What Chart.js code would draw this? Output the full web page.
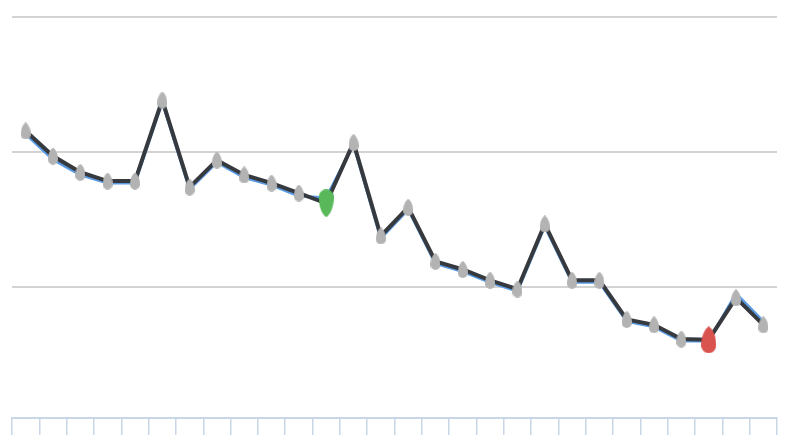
<!DOCTYPE html>
<html>
<head>
<meta charset="utf-8">
<script src="https://cdn.jsdelivr.net/npm/chart.js@4"></script>
<style>
    html, body { margin: 0; padding: 0; background: #fff; }
    #wrap { width: 792px; height: 441px; }
</style>
</head>
<body>
<div id="wrap"><canvas id="trend-chart"></canvas></div>
<script>
// =======================
// Data
// =======================
const labels = [
    "1", "2", "3", "4", "5", "6", "7", "8", "9", "10",
    "11", "12", "13", "14", "15", "16", "17", "18", "19", "20",
    "21", "22", "23", "24", "25", "26", "27", "28"
];
const mainValues = [
    215.6, 197, 185, 178.5, 178.5, 238.5, 174, 194, 183, 177,
    169.6, 162, 207, 137.8, 159, 119, 113, 105, 98.5, 146.7,
    105, 105, 76, 72, 61.5, 61, 92, 72
];
const shadowValues = [
    213.5, 194.5, 183, 177, 177, 237, 172.5, 192.5, 181, 175.5,
    167.5, 166, 205.5, 136, 157.5, 117.5, 111.5, 103.5, 97, 145,
    103.5, 103.5, 74.5, 70.5, 60, 60, 95, 74.5
];
const yTicks = [100, 200, 300];
const lowIndex = 25;
const highIndex = 11;

// =======================
// Marker shapes
// =======================
function makeDrop(w, h, color, tipUp) {
    const c = document.createElement('canvas');
    c.width = w;
    c.height = h;
    const ctx = c.getContext('2d');
    ctx.fillStyle = color;
    if (!tipUp) {
        ctx.translate(0, h);
        ctx.scale(1, -1);
    }
    const r = w / 2;
    ctx.beginPath();
    ctx.moveTo(r, 0);
    ctx.bezierCurveTo(w * 0.8, h * 0.12, w, h * 0.38, w, h - r);
    ctx.arc(r, h - r, r, 0, Math.PI);
    ctx.bezierCurveTo(0, h * 0.38, w * 0.2, h * 0.12, r, 0);
    ctx.fill();
    return c;
}

const grayDot = makeDrop(10, 17, '#b3b3b3', true);
const greenDrop = makeDrop(15, 28, '#58b85a', false);
const redDrop = makeDrop(15, 27, '#d9534f', true);

const pointStyles = mainValues.map((v, i) => {
    if (i === highIndex) return greenDrop;
    if (i === lowIndex) return redDrop;
    return grayDot;
});

// =======================
// The Line Graph
// =======================
const trendCanvas = document.querySelector('#trend-chart');
const trendData = {
    labels: labels,
    datasets: [{
        data: mainValues,
        borderColor: '#363a3f',
        borderWidth: 4,
        pointStyle: pointStyles,
        pointRadius: 8,
        pointHoverRadius: 8,
        tension: 0
    }, {
        data: shadowValues,
        borderColor: '#5a9be3',
        borderWidth: 3,
        pointRadius: 0,
        tension: 0
    }]
};
const trendOptions = {
    responsive: true,
    maintainAspectRatio: false,
    animation: false,
    events: [],
    layout: {
        padding: { left: 12, right: 15, top: 17, bottom: 6 }
    },
    scales: {
        x: {
            offset: true,
            grid: {
                offset: true,
                drawOnChartArea: false,
                drawTicks: true,
                tickLength: 17,
                color: '#c8d6e6',
                lineWidth: 1.5
            },
            border: {
                color: '#c8d6e6',
                width: 2
            },
            ticks: { display: false }
        },
        y: {
            display: true,
            min: 3,
            max: 300,
            afterBuildTicks: axis => {
                axis.ticks = yTicks.map(v => ({ value: v }));
            },
            grid: {
                color: '#d3d3d3',
                lineWidth: 2,
                drawTicks: false
            },
            border: { display: false },
            ticks: { display: false }
        }
    },
    plugins: {
        legend: { display: false },
        tooltip: { enabled: false }
    }
};
let trendChart = new Chart(trendCanvas, {
    type: 'line',
    data: trendData,
    options: trendOptions
});
</script>
</body>
</html>
